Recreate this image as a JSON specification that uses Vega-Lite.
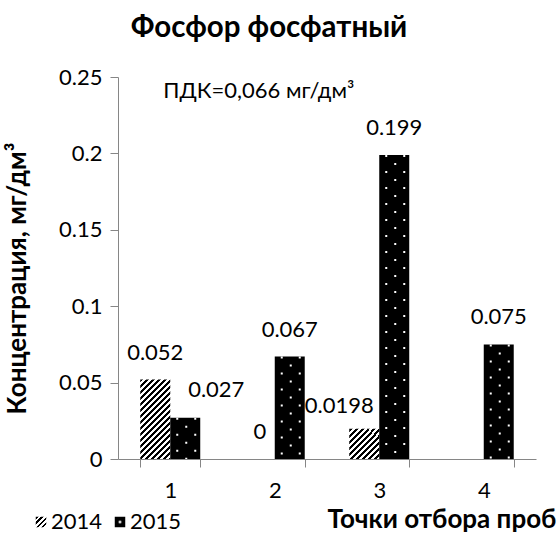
{
  "$schema": "https://vega.github.io/schema/vega-lite/v6.json",
  "width": 418,
  "height": 382,
  "autosize": {"type": "none"},
  "padding": {"left": 118, "top": 77, "right": 24, "bottom": 74},
  "background": "white",
  "config": {"view": {"stroke": null}, "font": "Lato, Open Sans"},
  "title": {"text": "Фосфор фосфатный", "fontSize": 29.5, "fontWeight": "bold", "color": "black", "anchor": "middle", "frame": "group", "dx": -58, "offset": 0, "baseline": "alphabetic"},
  "data": {"values": [
    {"point": "1", "year": "2014", "value": 0.052},
    {"point": "1", "year": "2015", "value": 0.027},
    {"point": "2", "year": "2014", "value": 0},
    {"point": "2", "year": "2015", "value": 0.067},
    {"point": "3", "year": "2014", "value": 0.0198},
    {"point": "3", "year": "2015", "value": 0.199},
    {"point": "4", "year": "2015", "value": 0.075}
  ]},
  "layer": [
    {
      "mark": {"type": "bar"},
      "encoding": {
        "x": {"field": "point", "type": "nominal",
          "scale": {"paddingInner": 0.426, "paddingOuter": 0.213},
          "axis": {"title": "Точки отбора проб", "labelAngle": 0, "labelFontSize": 22, "labelColor": "black", "labelPadding": 13,
            "tickSize": 8, "tickColor": "#868686", "domainColor": "#868686", "tickBand": "extent", "grid": false,
            "titleFontSize": 26, "titleFontWeight": "bold", "titleColor": "black", "titleAnchor": "end", "titleAlign": "right",
            "titleX": 438, "titleY": 68, "titleBaseline": "alphabetic"}},
        "xOffset": {"field": "year", "type": "nominal", "sort": ["2014", "2015"]},
        "y": {"field": "value", "type": "quantitative",
          "scale": {"domain": [0, 0.25], "nice": false},
          "axis": {"title": "Концентрация, мг/дм³", "values": [0, 0.05, 0.1, 0.15, 0.2, 0.25], "format": "~g",
            "labelFontSize": 22, "labelColor": "black", "labelPadding": 8, "tickSize": 8, "tickColor": "#868686",
            "domainColor": "#868686", "grid": false, "titleFontSize": 26, "titleFontWeight": "bold", "titleColor": "black",
            "titlePadding": 28, "titleY": 201}},
        "color": {
          "condition": [
            {"test": "datum.year === '2015'", "value": "#000000"},
            {"test": "datum.point === '1' && datum.year === '2014'", "value": {"gradient": "linear", "x1": 0, "y1": 0, "x2": 0.499, "y2": 1.322, "stops": [
              {"offset": 0, "color": "#000"}, {"offset": 0.025, "color": "#000"}, {"offset": 0.025, "color": "#fff"}, {"offset": 0.05, "color": "#fff"},
              {"offset": 0.05, "color": "#000"}, {"offset": 0.075, "color": "#000"}, {"offset": 0.075, "color": "#fff"}, {"offset": 0.1, "color": "#fff"},
              {"offset": 0.1, "color": "#000"}, {"offset": 0.125, "color": "#000"}, {"offset": 0.125, "color": "#fff"}, {"offset": 0.15, "color": "#fff"},
              {"offset": 0.15, "color": "#000"}, {"offset": 0.175, "color": "#000"}, {"offset": 0.175, "color": "#fff"}, {"offset": 0.2, "color": "#fff"},
              {"offset": 0.2, "color": "#000"}, {"offset": 0.225, "color": "#000"}, {"offset": 0.225, "color": "#fff"}, {"offset": 0.25, "color": "#fff"},
              {"offset": 0.25, "color": "#000"}, {"offset": 0.275, "color": "#000"}, {"offset": 0.275, "color": "#fff"}, {"offset": 0.3, "color": "#fff"},
              {"offset": 0.3, "color": "#000"}, {"offset": 0.325, "color": "#000"}, {"offset": 0.325, "color": "#fff"}, {"offset": 0.35, "color": "#fff"},
              {"offset": 0.35, "color": "#000"}, {"offset": 0.375, "color": "#000"}, {"offset": 0.375, "color": "#fff"}, {"offset": 0.4, "color": "#fff"},
              {"offset": 0.4, "color": "#000"}, {"offset": 0.425, "color": "#000"}, {"offset": 0.425, "color": "#fff"}, {"offset": 0.45, "color": "#fff"},
              {"offset": 0.45, "color": "#000"}, {"offset": 0.475, "color": "#000"}, {"offset": 0.475, "color": "#fff"}, {"offset": 0.5, "color": "#fff"},
              {"offset": 0.5, "color": "#000"}, {"offset": 0.525, "color": "#000"}, {"offset": 0.525, "color": "#fff"}, {"offset": 0.55, "color": "#fff"},
              {"offset": 0.55, "color": "#000"}, {"offset": 0.575, "color": "#000"}, {"offset": 0.575, "color": "#fff"}, {"offset": 0.6, "color": "#fff"},
              {"offset": 0.6, "color": "#000"}, {"offset": 0.625, "color": "#000"}, {"offset": 0.625, "color": "#fff"}, {"offset": 0.65, "color": "#fff"},
              {"offset": 0.65, "color": "#000"}, {"offset": 0.675, "color": "#000"}, {"offset": 0.675, "color": "#fff"}, {"offset": 0.7, "color": "#fff"},
              {"offset": 0.7, "color": "#000"}, {"offset": 0.725, "color": "#000"}, {"offset": 0.725, "color": "#fff"}, {"offset": 0.75, "color": "#fff"},
              {"offset": 0.75, "color": "#000"}, {"offset": 0.775, "color": "#000"}, {"offset": 0.775, "color": "#fff"}, {"offset": 0.8, "color": "#fff"},
              {"offset": 0.8, "color": "#000"}, {"offset": 0.825, "color": "#000"}, {"offset": 0.825, "color": "#fff"}, {"offset": 0.85, "color": "#fff"},
              {"offset": 0.85, "color": "#000"}, {"offset": 0.875, "color": "#000"}, {"offset": 0.875, "color": "#fff"}, {"offset": 0.9, "color": "#fff"},
              {"offset": 0.9, "color": "#000"}, {"offset": 0.925, "color": "#000"}, {"offset": 0.925, "color": "#fff"}, {"offset": 1, "color": "#fff"}
            ]}},
            {"test": "datum.point === '3' && datum.year === '2014'", "value": {"gradient": "linear", "x1": 0, "y1": 0, "x2": 0.992, "y2": 1, "stops": [
              {"offset": 0, "color": "#000"}, {"offset": 0.05, "color": "#000"}, {"offset": 0.05, "color": "#fff"}, {"offset": 0.1, "color": "#fff"},
              {"offset": 0.1, "color": "#000"}, {"offset": 0.15, "color": "#000"}, {"offset": 0.15, "color": "#fff"}, {"offset": 0.2, "color": "#fff"},
              {"offset": 0.2, "color": "#000"}, {"offset": 0.25, "color": "#000"}, {"offset": 0.25, "color": "#fff"}, {"offset": 0.3, "color": "#fff"},
              {"offset": 0.3, "color": "#000"}, {"offset": 0.35, "color": "#000"}, {"offset": 0.35, "color": "#fff"}, {"offset": 0.4, "color": "#fff"},
              {"offset": 0.4, "color": "#000"}, {"offset": 0.45, "color": "#000"}, {"offset": 0.45, "color": "#fff"}, {"offset": 0.5, "color": "#fff"},
              {"offset": 0.5, "color": "#000"}, {"offset": 0.55, "color": "#000"}, {"offset": 0.55, "color": "#fff"}, {"offset": 0.6, "color": "#fff"},
              {"offset": 0.6, "color": "#000"}, {"offset": 0.65, "color": "#000"}, {"offset": 0.65, "color": "#fff"}, {"offset": 0.7, "color": "#fff"},
              {"offset": 0.7, "color": "#000"}, {"offset": 0.75, "color": "#000"}, {"offset": 0.75, "color": "#fff"}, {"offset": 0.8, "color": "#fff"},
              {"offset": 0.8, "color": "#000"}, {"offset": 0.85, "color": "#000"}, {"offset": 0.85, "color": "#fff"}, {"offset": 0.9, "color": "#fff"},
              {"offset": 0.9, "color": "#000"}, {"offset": 0.95, "color": "#000"}, {"offset": 0.95, "color": "#fff"}, {"offset": 1, "color": "#fff"}
            ]}}
          ],
          "field": "year", "type": "nominal",
          "scale": {"domain": ["2014", "2015"], "range": [
            {"expr": "{gradient: 'linear', x1: 0, y1: 0, x2: 1, y2: 1, stops: [{offset: 0, color: '#000'}, {offset: 0.125, color: '#000'}, {offset: 0.125, color: '#fff'}, {offset: 0.25, color: '#fff'}, {offset: 0.25, color: '#000'}, {offset: 0.375, color: '#000'}, {offset: 0.375, color: '#fff'}, {offset: 0.5, color: '#fff'}, {offset: 0.5, color: '#000'}, {offset: 0.625, color: '#000'}, {offset: 0.625, color: '#fff'}, {offset: 0.75, color: '#fff'}, {offset: 0.75, color: '#000'}, {offset: 0.875, color: '#000'}, {offset: 0.875, color: '#fff'}, {offset: 1, color: '#fff'}]}"},
            {"expr": "{gradient: 'radial', x1: 0.5, y1: 0.5, r1: 0, x2: 0.5, y2: 0.5, r2: 0.5, stops: [{offset: 0, color: '#fff'}, {offset: 0.22, color: '#fff'}, {offset: 0.28, color: '#000'}, {offset: 1, color: '#000'}]}"}
          ]},
          "legend": {"title": null, "orient": "none", "legendX": -88, "legendY": 434, "direction": "horizontal",
            "symbolType": "square", "symbolSize": 110, "symbolStrokeWidth": 0, "labelFontSize": 22, "labelColor": "black",
            "labelOffset": -1, "columnPadding": 6}
        }
      }
    },
    {
      "transform": [{"filter": "datum.year === '2015'"}],
      "mark": {"type": "rule", "color": "white", "strokeWidth": 2, "strokeDash": [2, 14], "xOffset": 7},
      "encoding": {"x": {"field": "point", "type": "nominal"}, "y": {"field": "value", "type": "quantitative"}, "y2": {"datum": 0}}
    },
    {
      "transform": [{"filter": "datum.year === '2015'"}],
      "mark": {"type": "rule", "color": "white", "strokeWidth": 2, "strokeDash": [2, 14], "strokeDashOffset": 8, "xOffset": 16},
      "encoding": {"x": {"field": "point", "type": "nominal"}, "y": {"field": "value", "type": "quantitative"}, "y2": {"datum": 0}}
    },
    {
      "transform": [{"filter": "datum.year === '2015'"}],
      "mark": {"type": "rule", "color": "white", "strokeWidth": 2, "strokeDash": [2, 14], "xOffset": 25},
      "encoding": {"x": {"field": "point", "type": "nominal"}, "y": {"field": "value", "type": "quantitative"}, "y2": {"datum": 0}}
    },
    {
      "transform": [{"filter": "!(datum.point === '1' && datum.year === '2015') && !(datum.point === '3' && datum.year === '2014')"}],
      "mark": {"type": "text", "baseline": "alphabetic", "dy": -20, "fontSize": 22, "color": "black"},
      "encoding": {
        "x": {"field": "point", "type": "nominal"},
        "xOffset": {"field": "year", "type": "nominal", "sort": ["2014", "2015"]},
        "y": {"field": "value", "type": "quantitative"},
        "text": {"field": "value", "type": "quantitative", "format": "~g"}
      }
    },
    {
      "transform": [{"filter": "datum.point === '1' && datum.year === '2015'"}],
      "mark": {"type": "text", "baseline": "alphabetic", "dx": 31, "dy": -21, "fontSize": 22, "color": "black"},
      "encoding": {
        "x": {"field": "point", "type": "nominal"},
        "xOffset": {"field": "year", "type": "nominal", "sort": ["2014", "2015"]},
        "y": {"field": "value", "type": "quantitative"},
        "text": {"field": "value", "type": "quantitative", "format": "~g"}
      }
    },
    {
      "transform": [{"filter": "datum.point === '3' && datum.year === '2014'"}],
      "mark": {"type": "text", "baseline": "alphabetic", "dx": -25, "dy": -16, "fontSize": 22, "color": "black"},
      "encoding": {
        "x": {"field": "point", "type": "nominal"},
        "xOffset": {"field": "year", "type": "nominal", "sort": ["2014", "2015"]},
        "y": {"field": "value", "type": "quantitative"},
        "text": {"field": "value", "type": "quantitative", "format": "~g"}
      }
    },
    {
      "data": {"values": [{"note": "ПДК=0,066 мг/дм³", "point": "1", "level": 0.241}]},
      "mark": {"type": "text", "align": "left", "baseline": "middle", "dx": -7, "fontSize": 22, "color": "black"},
      "encoding": {
        "x": {"field": "point", "type": "nominal"},
        "y": {"field": "level", "type": "quantitative"},
        "text": {"field": "note"}
      }
    }
  ]
}
